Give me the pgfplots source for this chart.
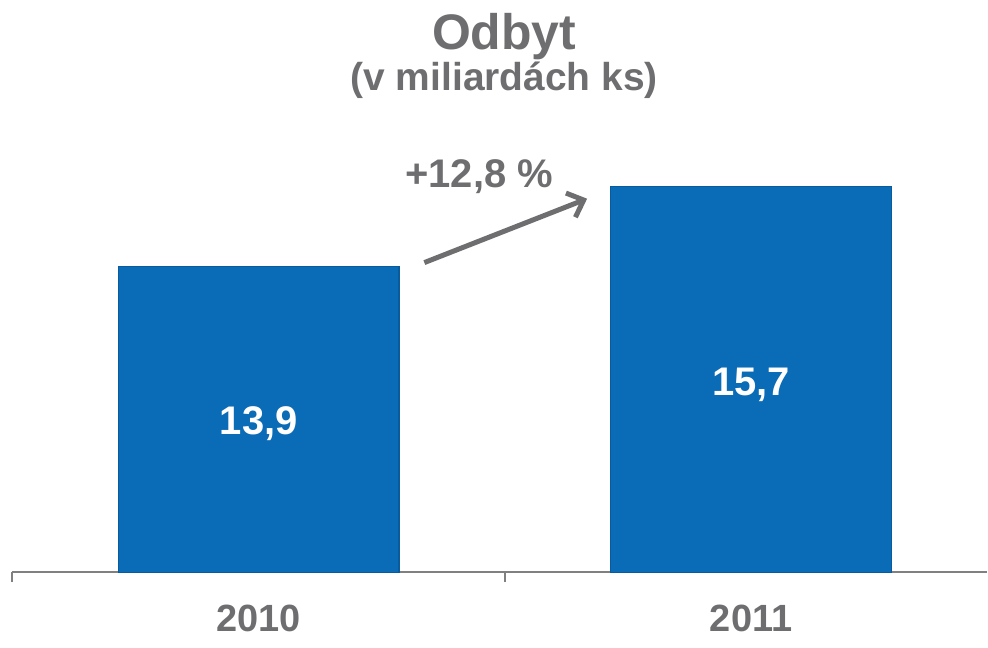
\documentclass[border=0pt]{standalone}
\usepackage{pgfplots}
\pgfplotsset{compat=1.18}
\usepackage{fontspec}
\setmainfont{Liberation Sans}
\usetikzlibrary{arrows.meta}
\definecolor{barblue}{HTML}{0A6BB7}
\definecolor{txtgray}{HTML}{6E6E70}
\definecolor{axgray}{HTML}{808080}

\begin{document}
\begin{tikzpicture}[x=1pt,y=1pt]
\path (0,0) rectangle (494,318);
% title
\node[anchor=base, text=txtgray, font=\fontsize{25}{28}\selectfont\bfseries] at (252.5,293) {Odbyt};
\node[anchor=base, text=txtgray, font=\fontsize{19.5}{22}\selectfont\bfseries] at (252.5,272.5) {(v miliardách ks)};

\begin{axis}[
    at={(6.25pt,31.5pt)}, anchor=south west,
    scale only axis,
    width=488pt, height=222pt,
    xmin=-0.5, xmax=1.479,
    ymin=7, ymax=17,
    ybar, bar width=140.5pt,
    axis x line=bottom, axis y line=none,
    axis line style={axgray, line width=1pt, -},
    xtick={0,1},
    xticklabels={\textbf{2010},\textbf{2011}},
    major tick length=0pt,
    xticklabel style={text=txtgray, font=\fontsize{19}{22}\selectfont, anchor=base, yshift=-29.5pt},
    extra x ticks={-0.5,0.5},
    extra x tick labels={},
    extra x tick style={major tick length=5pt, tick align=outside, tick style={axgray, line width=1pt}},
    clip=false,
    ]
\addplot[fill=barblue, draw=barblue!85!black, line width=0.6pt] coordinates {(0,13.9) (1,15.7)};
\node[anchor=base, text=white, font=\fontsize{20}{24}\selectfont\bfseries] at (axis cs:0,10.11) {13,9};
\node[anchor=base, text=white, font=\fontsize{20}{24}\selectfont\bfseries] at (axis cs:1,10.99) {15,7};
\end{axis}

\draw[txtgray, line width=2.5pt, -{Straight Barb[length=7pt,width=13pt]}] (212.5,186.5) -- (294,218.5);
\node[anchor=base, text=txtgray, font=\fontsize{20}{24}\selectfont\bfseries] at (240,224) {+12,8 \%};
\end{tikzpicture}
\end{document}
